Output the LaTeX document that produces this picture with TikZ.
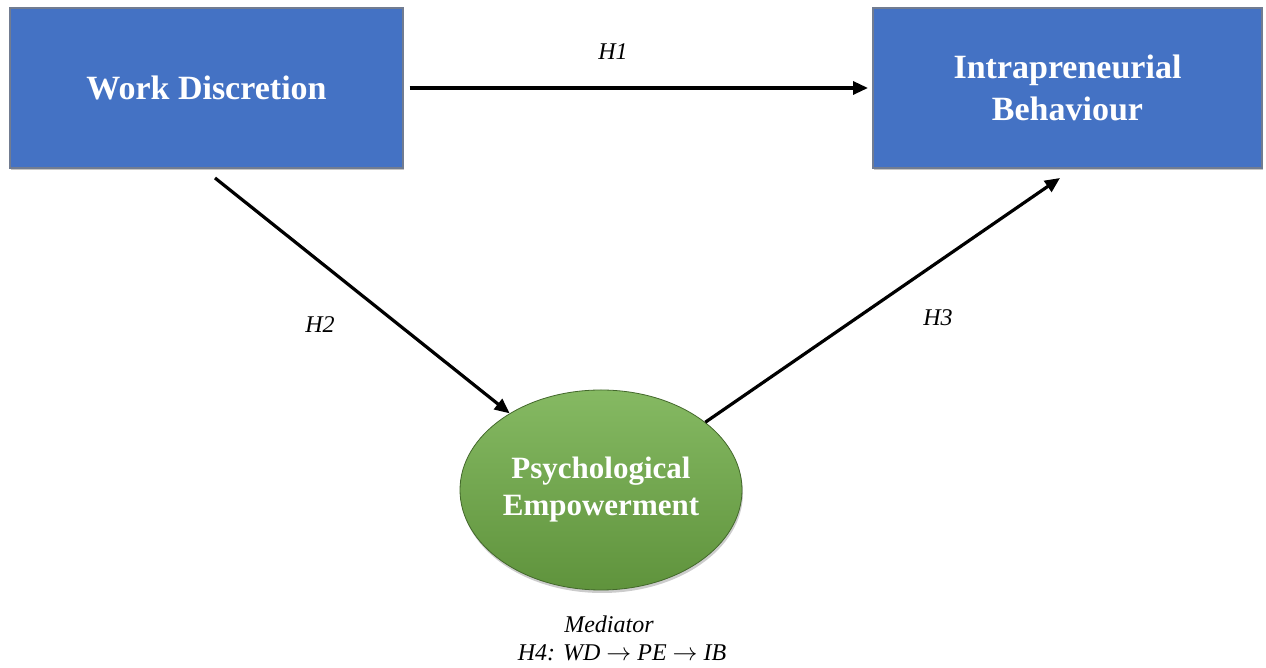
\documentclass[tikz,border=0pt]{standalone}
\usepackage{fontspec}
\setmainfont{Liberation Serif}
\usepackage{tikz}
\usetikzlibrary{arrows.meta}
\usetikzlibrary{shapes.geometric,shadows}

\definecolor{varblue}{HTML}{4472C4}
\definecolor{medgreen}{HTML}{70AD47}

\begin{document}
\begin{tikzpicture}[x=1pt,y=1pt,
  var/.style={rectangle,fill=varblue,draw=gray!75!varblue,line width=1.4pt,
    text=white,align=center,outer sep=0pt,
    minimum height=160pt,font=\fontsize{34}{42}\selectfont\bfseries,
    drop shadow={shadow xshift=1pt,shadow yshift=-2pt,fill=black!45}},
  med/.style={ellipse,top color=medgreen!85!white,bottom color=medgreen!85!black,
    draw=medgreen!60!black,line width=0.8pt,text=white,align=center,inner sep=0pt,
    minimum width=282pt,minimum height=200pt,font=\fontsize{31}{37}\selectfont\bfseries,
    drop shadow={shadow xshift=1pt,shadow yshift=-3pt,fill=black!40}},
  link/.style={line width=3.2pt,-{Triangle[length=15pt,width=13pt]}},
  hyp/.style={inner sep=1pt,font=\fontsize{24}{28}\selectfont\itshape}]
  \useasboundingbox (0,0) rectangle (1266,668);
  \node[var,minimum width=393pt] (wd) at (206.5,580) {Work Discretion};
  \node[var,minimum width=389pt] (ib) at (1067.5,580) {Intrapreneurial\\Behaviour};
  \node[med] (pe) at (601,178) {Psychological\\Empowerment};
  \draw[link,shorten <=6.5pt,shorten >=5pt] (wd.east) -- (ib.west);
  \draw[link] ([xshift=8.5pt,yshift=-10pt]wd.south) -- (pe.140);
  \draw[link] (pe.33) -- ([xshift=-7.5pt,yshift=-10pt]ib.south);
  \node[hyp] (h1) at (613,616) {H1};
  \node[hyp] (h2) at (320,343) {H2};
  \node[hyp] (h3) at (938,350) {H3};
  \node[hyp] (medtxt) at (609,44) {Mediator};
  \node[hyp] (h4) at (622,15) {H4: WD $\rightarrow$ PE $\rightarrow$ IB};
\end{tikzpicture}
\end{document}
